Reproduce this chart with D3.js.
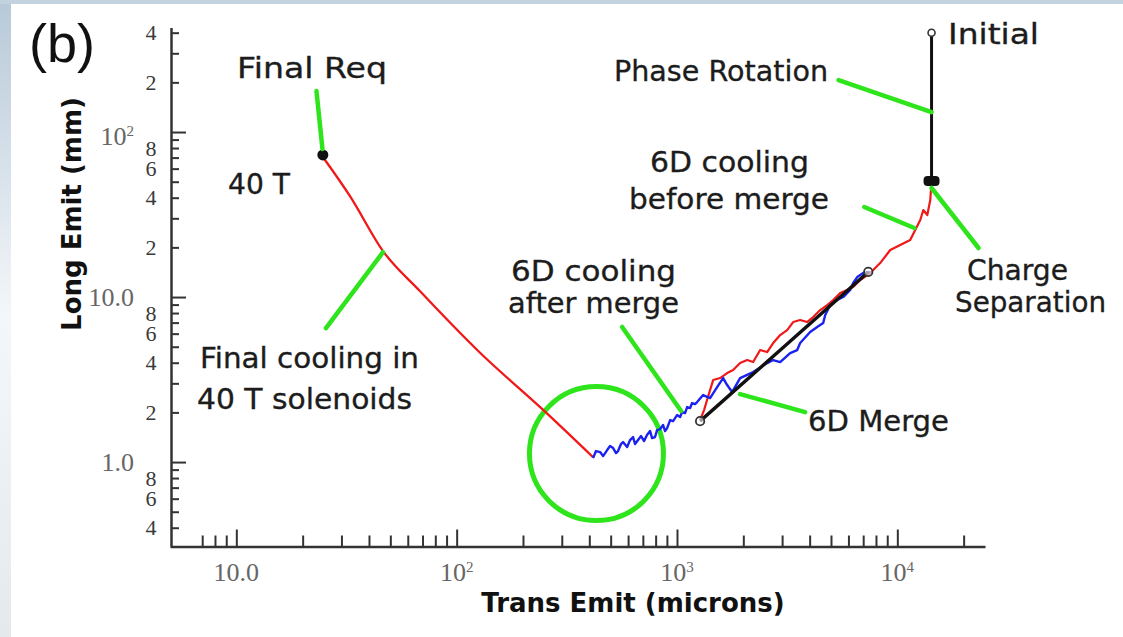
<!DOCTYPE html>
<html><head><meta charset="utf-8">
<script src="https://cdn.jsdelivr.net/npm/d3@7"></script>
<style>
html,body{margin:0;padding:0;background:#fff;}
svg{display:block;}
</style></head><body>
<svg id="chart" width="1123" height="637"></svg>
<script>
// ---- data (transverse emittance in microns, longitudinal emittance in mm) ----
const finalCoolingX = [24.7, 32.8, 46.3, 68.1, 128, 247, 416];
const finalCoolingY = [70.6, 40.9, 19.0, 10.87, 4.58, 2.07, 1.07];

const afterMergeX = [416, 429, 448, 462, 482, 497, 513, 529, 540, 557, 569, 594, 612, 632, 645, 687,
  709, 731, 755, 771, 795, 812, 838, 865, 883, 902, 931, 960, 1001, 1033, 1055, 1088, 1112, 1147,
  1171, 1208, 1234, 1314, 1413, 1521, 1620, 1689, 1779, 1934, 2216, 2566, 2732,
  2939, 3263, 3511, 3623, 4022, 4328, 4609, 4707, 4959, 5333, 5680, 6111, 6306, 6576, 7001, 7533];
const afterMergeY = [1.057, 1.166, 1.150, 1.087, 1.182, 1.250, 1.216, 1.134, 1.166, 1.286, 1.322,
  1.233, 1.359, 1.418, 1.286, 1.437, 1.340, 1.457, 1.541, 1.398, 1.418, 1.563, 1.585, 1.676, 1.541,
  1.607, 1.797, 1.772, 1.927, 1.874, 2.009, 1.982, 2.154, 2.125, 2.278, 2.247, 2.310, 2.547, 2.443,
  2.848, 3.229, 2.929, 2.656, 3.229, 3.512, 3.981, 4.152, 4.037, 4.577, 4.773, 5.262, 6.136, 6.579,
  6.957, 7.779, 8.944, 9.59, 10.0, 11.03, 12.16, 13.22, 13.98, 14.18];

const beforeMergeX = [1273, 1327, 1369, 1459, 1570, 1689, 1798, 1934, 2082, 2216, 2385, 2566, 2732,
  2939, 3162, 3368, 3623, 3898, 4151, 4466, 4806, 5117, 5505, 5923, 6306, 6786, 7533, 8360, 9286,
  10310, 11440, 12060, 12710, 13120, 13680, 14110, 14260];
const beforeMergeY = [1.797, 2.066, 2.376, 3.140, 3.229, 3.463, 3.611, 3.981, 4.152, 4.037, 4.773,
  4.642, 5.262, 5.885, 6.310, 7.055, 7.254, 7.055, 7.564, 8.341, 8.944, 9.59, 10.57, 11.03, 11.50,
  12.68, 13.98, 16.07, 19.27, 20.66, 22.16, 25.48, 29.29, 33.68, 31.41, 38.72, 47.73];

const mergeX = [1273, 7380];
const mergeY = [1.77, 14.2];

const phaseRotationX = [14300, 14300];
const phaseRotationY = [400, 50.5];

const finalReqPoint = [24.7, 72.6];
const chargeSepPoint = [14300, 50.5];
const initialPoint = [14300, 400];
const highlightCenter = [431, 1.126];

// ---- ticks ----
const xMajorTicks = [10, 100, 1000, 10000];
const xMinorTicks = [7, 8, 9, 20, 30, 40, 50, 60, 70, 80, 90, 200, 300, 400, 500, 600, 700, 800, 900,
  2000, 3000, 4000, 5000, 6000, 7000, 8000, 9000, 20000];
const xTickLabels = [["10", ".0"], ["10", "2"], ["10", "3"], ["10", "4"]];

const yMajorTicks = [1, 10, 100];
const yMinorTicks = [0.4, 0.5, 0.6, 0.7, 0.8, 0.9, 2, 3, 4, 5, 6, 7, 8, 9,
  20, 30, 40, 50, 60, 70, 80, 90, 200, 300, 400];
const yDigitTicks = [0.4, 0.6, 0.8, 2, 4, 6, 8, 20, 40, 60, 80, 200, 400];
const yDigitLabels = ["4", "6", "8", "2", "4", "6", "8", "2", "4", "6", "8", "2", "4"];
const yDecadeLabels = [["1", ".0"], ["10", ".0"], ["10", "2"]];

// ---- annotations: tip in data units, tail as a pixel offset from the tip ----
const annotations = [
  { tip: [24.6, 78.9], tail: [-6, -58] },     // Final Req
  { tip: [46.3, 18.7], tail: [-57, 76] },     // Final cooling
  { tip: [1044, 2.04], tail: [-59, -84] },    // after merge
  { tip: [1934, 2.58], tail: [65, 18] },      // 6D Merge
  { tip: [11940, 26.2], tail: [-50, -21] },   // before merge
  { tip: [14300, 132], tail: [-93, -32] },    // Phase Rotation
  { tip: [14300, 45.8], tail: [47, 60] }      // Charge Separation
];

// text lines: left edge, baseline, drawn width
const labelLines = [
  { text: "Final Req", x: 237, y: 78, w: 150 },
  { text: "40 T", x: 228, y: 194, w: 62 },
  { text: "Final cooling in", x: 200, y: 368, w: 219 },
  { text: "40 T solenoids", x: 197, y: 409, w: 215 },
  { text: "6D cooling", x: 511, y: 281, w: 165 },
  { text: "after merge", x: 508, y: 313, w: 171 },
  { text: "6D Merge", x: 808, y: 431, w: 141 },
  { text: "6D cooling", x: 650, y: 172, w: 159 },
  { text: "before merge", x: 629, y: 209, w: 200 },
  { text: "Phase Rotation", x: 614, y: 81, w: 214 },
  { text: "Initial", x: 948, y: 44, w: 91 },
  { text: "Charge", x: 967, y: 280, w: 101 },
  { text: "Separation", x: 955, y: 312, w: 151 }
];

// ---- drawing ----
const svg = d3.select("#chart");
const W = 1123, H = 637;

const defs = svg.append("defs");
const grad = defs.append("linearGradient").attr("id", "edge").attr("x1", 0).attr("y1", 0).attr("x2", 0).attr("y2", 1);
grad.append("stop").attr("offset", "0%").attr("stop-color", "#b7c9d8");
grad.append("stop").attr("offset", "50%").attr("stop-color", "#f4f7fa");
grad.append("stop").attr("offset", "100%").attr("stop-color", "#e4e9ee");

svg.append("rect").attr("width", W).attr("height", H).attr("fill", "url(#edge)");
svg.append("rect").attr("width", W).attr("height", 4).attr("fill", "#c3d2df");
svg.append("rect").attr("x", 11).attr("y", 4).attr("width", W - 11).attr("height", H - 4).attr("fill", "#ffffff");

const x = d3.scaleLog().domain([5, 25000]).range([170, 985]);
const y = d3.scaleLog().domain([0.31, 430]).range([546, 27.5]);

const serif = "'Liberation Serif', 'DejaVu Serif', serif";
const sans = "'DejaVu Sans', sans-serif";

// axes: inward ticks
const axisG = svg.append("g").attr("stroke-linecap", "butt");
function styleAxis(g) {
  g.selectAll("line").attr("stroke", "#333").attr("stroke-width", 2);
  g.selectAll("path.domain").attr("stroke", "#333").attr("stroke-width", 2.5);
  g.selectAll("text").remove();
}
axisG.append("g").attr("transform", "translate(171,0)")
  .call(d3.axisLeft(y).tickValues(yMinorTicks).tickSizeInner(-8).tickSizeOuter(0).tickFormat(""))
  .call(styleAxis);
axisG.append("g").attr("transform", "translate(171,0)")
  .call(d3.axisLeft(y).tickValues(yMajorTicks).tickSizeInner(-15).tickSizeOuter(0).tickFormat(""))
  .call(g => g.select("path.domain").remove())
  .call(styleAxis);
axisG.append("g").attr("transform", "translate(0,546.5)")
  .call(d3.axisBottom(x).tickValues(xMinorTicks).tickSizeInner(-11).tickSizeOuter(0).tickFormat(""))
  .call(styleAxis);
axisG.append("g").attr("transform", "translate(0,546.5)")
  .call(d3.axisBottom(x).tickValues(xMajorTicks).tickSizeInner(-17).tickSizeOuter(0).tickFormat(""))
  .call(g => g.select("path.domain").remove())
  .call(styleAxis);

// tick labels
function decadeLabel(g, parts, px, py, anchor) {
  const t = g.append("text").attr("x", px).attr("y", py).attr("text-anchor", anchor)
    .attr("font-family", serif).attr("font-size", 26).attr("fill", "#666");
  t.append("tspan").text(parts[0]);
  if (parts[1].startsWith(".")) {
    t.append("tspan").text(parts[1]);
  } else {
    t.append("tspan").attr("dy", -9).attr("font-size", 15).text(parts[1]);
  }
}
const tl = svg.append("g");
xMajorTicks.forEach((v, i) => decadeLabel(tl, xTickLabels[i], x(v), 581, "middle"));
yMajorTicks.forEach((v, i) => decadeLabel(tl, yDecadeLabels[i], 134, y(v) + (i === 2 ? 13 : 9), "end"));
tl.selectAll("text.dig").data(yDigitTicks).join("text")
  .attr("class", "dig")
  .attr("x", 151).attr("y", d => y(d) + 7.5)
  .attr("text-anchor", "middle")
  .attr("font-family", serif).attr("font-size", 22).attr("fill", "#3a3a3a")
  .text((d, i) => yDigitLabels[i]);

// axis titles
svg.append("text").attr("x", 633).attr("y", 612).attr("text-anchor", "middle")
  .attr("font-family", sans).attr("font-weight", "bold").attr("font-size", 26).attr("fill", "#111")
  .text("Trans Emit (microns)");
svg.append("text").attr("transform", "translate(81,214) rotate(-90)").attr("text-anchor", "middle")
  .attr("font-family", sans).attr("font-weight", "bold").attr("font-size", 26).attr("fill", "#111")
  .text("Long Emit (mm)");

// panel tag
svg.append("text").attr("x", 29).attr("y", 62)
  .attr("font-family", "'Liberation Sans', Arial, sans-serif").attr("font-size", 54).attr("fill", "#111")
  .text("(b)");

// highlight ring
const green = "#2ee51c";
svg.append("circle").attr("cx", x(highlightCenter[0])).attr("cy", y(highlightCenter[1]))
  .attr("r", 67).attr("fill", "none").attr("stroke", green).attr("stroke-width", 5);

// curves
const line = d3.line().x(d => x(d[0])).y(d => y(d[1]));
const smooth = d3.line().x(d => x(d[0])).y(d => y(d[1])).curve(d3.curveMonotoneX);
const zip = (a, b) => a.map((v, i) => [v, b[i]]);

svg.append("path").datum(zip(finalCoolingX, finalCoolingY)).attr("d", smooth)
  .attr("fill", "none").attr("stroke", "#f01818").attr("stroke-width", 2.3).attr("stroke-linejoin", "round");
svg.append("path").datum(zip(beforeMergeX, beforeMergeY)).attr("d", line)
  .attr("fill", "none").attr("stroke", "#f01818").attr("stroke-width", 2.2).attr("stroke-linejoin", "round");
svg.append("path").datum(zip(afterMergeX, afterMergeY)).attr("d", line)
  .attr("fill", "none").attr("stroke", "#1a22f0").attr("stroke-width", 2.4).attr("stroke-linejoin", "round");
svg.append("path").datum(zip(mergeX, mergeY)).attr("d", line)
  .attr("fill", "none").attr("stroke", "#111").attr("stroke-width", 3.4);
svg.append("path").datum(zip(phaseRotationX, phaseRotationY)).attr("d", line)
  .attr("fill", "none").attr("stroke", "#111").attr("stroke-width", 3);

// markers
zip(mergeX, mergeY).forEach(p => {
  svg.append("circle").attr("cx", x(p[0])).attr("cy", y(p[1])).attr("r", 4.2)
    .attr("fill", "#fff").attr("fill-opacity", 0.6).attr("stroke", "#333").attr("stroke-width", 1.8);
});
svg.append("circle").attr("cx", x(initialPoint[0])).attr("cy", y(initialPoint[1])).attr("r", 3.5)
  .attr("fill", "#fff").attr("stroke", "#333").attr("stroke-width", 1.6);
svg.append("circle").attr("cx", x(finalReqPoint[0])).attr("cy", y(finalReqPoint[1])).attr("r", 5.5).attr("fill", "#111");
svg.append("rect").attr("x", x(chargeSepPoint[0]) - 8).attr("y", y(chargeSepPoint[1]) - 5)
  .attr("width", 16).attr("height", 10).attr("rx", 4).attr("fill", "#111");

// leaders
annotations.forEach(a => {
  const tx = x(a.tip[0]), ty = y(a.tip[1]);
  svg.append("line").attr("x1", tx).attr("y1", ty).attr("x2", tx + a.tail[0]).attr("y2", ty + a.tail[1])
    .attr("stroke", green).attr("stroke-width", 4.5).attr("stroke-linecap", "round");
});

// text labels
svg.append("g").selectAll("text").data(labelLines).join("text")
  .attr("x", d => d.x).attr("y", d => d.y)
  .attr("textLength", d => d.w).attr("lengthAdjust", "spacingAndGlyphs")
  .attr("font-family", sans).attr("font-size", 29)
  .attr("fill", "#1c1c1c").attr("stroke", "#1c1c1c").attr("stroke-width", 0.35)
  .text(d => d.text);
</script>
</body></html>
